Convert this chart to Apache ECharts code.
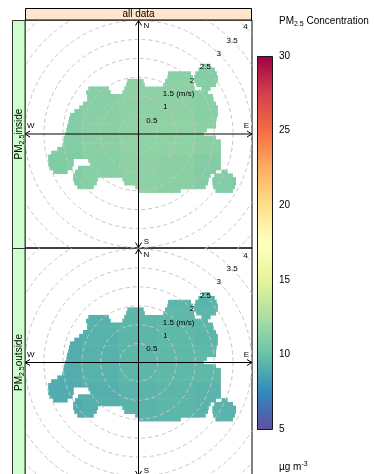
<!DOCTYPE html>
<html>
<head>
<meta charset="utf-8">
<script src="https://cdn.jsdelivr.net/npm/echarts@6/dist/echarts.min.js"></script>
<style>
  html, body { margin: 0; padding: 0; background: #fff; }
  #chart { width: 374px; height: 474px; }
</style>
</head>
<body>
<div id="chart"></div>
<script>
// Wind-speed plane (u = east, v = north, m/s) covered by the fitted surface.
// Each entry is one horizontal run of cells: [v (row centre), u start, u end]; rows are 0.1 m/s tall.
const rowStep = 0.1;
const coverRows = [
  [1.8, 1.69, 1.88],
  [1.7, 1.59, 2.01],
  [1.6, 0.79, 1.38], [1.6, 1.51, 2.06],
  [1.5, 0.77, 1.43], [1.5, 1.48, 2.09],
  [1.4, -0.29, 0.13], [1.4, 0.71, 1.43], [1.4, 1.48, 2.09],
  [1.3, -0.32, 0.16], [1.3, 0.66, 1.46], [1.3, 1.53, 2.04],
  [1.2, -1.32, -0.79], [1.2, -0.37, 1.48], [1.2, 1.67, 1.90],
  [1.1, -1.38, -0.74], [1.1, -0.42, 1.83],
  [1.0, -1.35, 1.96],
  [0.9, -1.35, 1.98],
  [0.8, -1.46, 2.04],
  [0.7, -1.56, 2.09],
  [0.6, -1.69, 2.09],
  [0.5, -1.80, 2.09],
  [0.4, -1.83, 2.06],
  [0.3, -1.85, 2.04],
  [0.2, -1.88, 2.04],
  [0.1, -1.90, 1.80],
  [0.0, -1.93, 1.72],
  [-0.1, -1.96, 2.04],
  [-0.2, -1.98, 2.17],
  [-0.3, -2.01, 2.17],
  [-0.4, -2.14, 2.17],
  [-0.5, -2.30, 2.17],
  [-0.6, -2.38, 2.17],
  [-0.7, -2.38, -1.72], [-0.7, -1.32, 2.17],
  [-0.8, -2.38, -1.72], [-0.8, -1.27, 2.17],
  [-0.9, -2.35, -1.75], [-0.9, -1.59, 2.17],
  [-1.0, -2.25, -1.88], [-1.0, -1.67, 2.04], [-1.0, 2.20, 2.35],
  [-1.1, -1.72, 1.90], [-1.1, 2.01, 2.49],
  [-1.2, -1.72, -1.08], [-1.2, -0.42, 1.85], [-1.2, 1.96, 2.57],
  [-1.3, -1.69, -1.11], [-1.3, -0.37, 1.83], [-1.3, 1.96, 2.57],
  [-1.4, -1.61, -1.19], [-1.4, -0.08, 1.77], [-1.4, 1.98, 2.54],
  [-1.5, 0.00, 1.11], [-1.5, 2.04, 2.49]
];

// PM2.5 (µg m-3) on a 1 m/s node grid: rows v = 3 ... -3, columns u = -3 ... 3
const gridNodes = [-3, -2, -1, 0, 1, 2, 3];
const insideValues = [
  [null, null, null, null, null, null, null],
  [null, null, 11.1, 11.3, 11.2, 11.0, null],
  [null, 11.0, 11.2, 11.4, 11.4, 11.2, null],
  [null, 11.0, 11.3, 11.5, 11.5, 11.3, null],
  [null, 10.9, 11.2, 11.4, 11.3, 11.0, 10.8],
  [null, null, 11.1, 11.3, 11.2, 10.9, 10.7],
  [null, null, null, null, null, null, null]
];
const outsideValues = [
  [null, null, null, null, null, null, null],
  [null, null, 9.3, 9.4, 9.5, 9.4, null],
  [null, 9.1, 9.3, 9.5, 9.6, 9.5, null],
  [null, 9.1, 9.3, 9.5, 9.6, 9.6, null],
  [null, 9.0, 9.2, 9.4, 9.5, 9.4, 9.3],
  [null, null, 9.2, 9.4, 9.5, 9.3, 9.3],
  [null, null, null, null, null, null, null]
];

const upper = 3;                                   // axis extent, m/s
const ringSpeeds = [0.5, 1, 1.5, 2, 2.5, 3, 3.5, 4];
const ringLabels = ['0.5', '1', '1.5 (m/s)', '2', '2.5', '3', '3.5', '4'];
const compassLabels = [['N', 0.07, 0.95], ['E', 0.95, 0.07], ['S', 0.07, -0.95], ['W', -0.95, 0.07]];
const colourTicks = [5, 10, 15, 20, 25, 30];
const palette = ['#5E4FA2', '#3288BD', '#66C2A5', '#ABDDA4', '#E6F598', '#FFFFBF',
                 '#FEE08B', '#FDAE61', '#F46D43', '#D53E4F', '#9E0142'];

const FONT = "'Liberation Sans', Arial, Helvetica, sans-serif";
const chart = echarts.init(document.getElementById('chart'));

const panelLeft = 25, panelWidth = 227;
const pxPerUnit = panelWidth / (2 * upper);
const panels = [
  { top: 20, height: 228, label: ['PM', '2.5', 'inside'], values: insideValues },
  { top: 248, height: 229, label: ['PM', '2.5', 'outside'], values: outsideValues }
];

// split each run where it crosses into the next node's cell and attach that node's value
function surfaceCells(values) {
  const out = [];
  coverRows.forEach(([v, u0, u1]) => {
    const ri = 3 - Math.round(v);
    let a = u0;
    while (a < u1 - 1e-9) {
      const col = Math.round(a + 1e-9);
      const end = Math.min(u1, col + 0.5);
      const val = values[ri][gridNodes.indexOf(col)];
      if (val != null) out.push([a, end, v, val]);
      a = end;
    }
  });
  return out;
}

function surfaceItem(params, api) {
  const v = api.value(2);
  const p0 = api.coord([api.value(0), v + rowStep / 2]);
  const p1 = api.coord([api.value(1), v - rowStep / 2]);
  return {
    type: 'rect',
    shape: { x: p0[0] - 0.3, y: p0[1] - 0.3, width: p1[0] - p0[0] + 0.6, height: p1[1] - p0[1] + 0.6 },
    style: { fill: api.visual('color') }
  };
}

function ringItem(params, api) {
  const c = api.coord([0, 0]);
  const r = api.size([api.value(0), 0])[0];
  return {
    type: 'circle',
    shape: { cx: c[0], cy: c[1], r: r },
    style: { fill: null, stroke: '#c6c6c6', lineWidth: 1, lineDash: [4, 3] }
  };
}

function ringLabelItem(params, api) {
  const p = api.coord([api.value(0), api.value(1)]);
  return {
    type: 'text', x: p[0], y: p[1],
    style: { text: ringLabels[api.value(2)], fontSize: 8, fontFamily: FONT, fill: '#000',
             align: 'center', verticalAlign: 'middle' }
  };
}

function arrowItem(params, api) {
  const p0 = api.coord([api.value(0), api.value(1)]);
  const p1 = api.coord([api.value(2), api.value(3)]);
  const dx = p1[0] - p0[0], dy = p1[1] - p0[1];
  const len = Math.hypot(dx, dy);
  const ux = dx / len, uy = dy / len, nx = -uy, ny = ux;
  const L = 5, W = 3;
  const head = (t, s) => [[t[0] - s * ux * L + nx * W, t[1] - s * uy * L + ny * W], t,
                          [t[0] - s * ux * L - nx * W, t[1] - s * uy * L - ny * W]];
  const st = { stroke: '#000', lineWidth: 1, fill: null };
  return {
    type: 'group',
    children: [
      { type: 'line', shape: { x1: p0[0], y1: p0[1], x2: p1[0], y2: p1[1] }, style: st },
      { type: 'polyline', shape: { points: head(p1, 1) }, style: st },
      { type: 'polyline', shape: { points: head(p0, -1) }, style: st }
    ]
  };
}

function compassItem(params, api) {
  const p = api.coord([api.value(0) * upper, api.value(1) * upper]);
  return {
    type: 'text', x: p[0], y: p[1],
    style: { text: compassLabels[params.dataIndex][0], fontSize: 8, fontFamily: FONT, fill: '#000',
             align: 'center', verticalAlign: 'middle' }
  };
}

function colourBarItem(params, api) {
  const p0 = api.coord([0, colourTicks[colourTicks.length - 1]]);
  const p1 = api.coord([1, colourTicks[0]]);
  return {
    type: 'rect',
    shape: { x: p0[0] + 0.5, y: p0[1] + 0.5, width: p1[0] - p0[0] - 1, height: p1[1] - p0[1] },
    style: {
      fill: { type: 'linear', x: 0, y: 1, x2: 0, y2: 0,
              colorStops: palette.map((c, i) => ({ offset: i / (palette.length - 1), color: c })) },
      stroke: '#1a1a1a', lineWidth: 1
    }
  };
}

const grids = [], xAxes = [], yAxes = [], series = [];
panels.forEach((p, i) => {
  const half = p.height / 2 / pxPerUnit;
  grids.push({ left: panelLeft, top: p.top, width: panelWidth, height: p.height, show: true,
               borderColor: '#000', borderWidth: 1, backgroundColor: 'transparent',
               containLabel: false, outerBoundsMode: 'none' });
  xAxes.push({ gridIndex: i, type: 'value', min: -upper, max: upper, show: false });
  yAxes.push({ gridIndex: i, type: 'value', min: -half, max: half, show: false });
});
grids.push({ left: 257, top: 56, width: 16, height: 373, show: false, containLabel: false, outerBoundsMode: 'none' });
xAxes.push({ gridIndex: 2, type: 'value', min: 0, max: 1, show: false });
yAxes.push({ gridIndex: 2, type: 'value', min: colourTicks[0], max: colourTicks[colourTicks.length - 1],
             interval: 5, position: 'right',
             axisLine: { show: false }, splitLine: { show: false },
             axisTick: { show: true, length: 4, lineStyle: { color: '#000', width: 1 } },
             axisLabel: { show: true, fontSize: 10, fontFamily: FONT, color: '#000', margin: 6 } });

panels.forEach((p, i) => {
  series.push({ type: 'custom', xAxisIndex: i, yAxisIndex: i, clip: true, silent: true, z: 1,
                encode: { x: [0, 1], y: 2 }, data: surfaceCells(p.values), renderItem: surfaceItem });
});
panels.forEach((p, i) => {
  series.push({ type: 'custom', xAxisIndex: i, yAxisIndex: i, clip: true, silent: true, z: 2,
                data: ringSpeeds.map(r => [r, 0]), renderItem: ringItem });
  series.push({ type: 'custom', xAxisIndex: i, yAxisIndex: i, silent: true, z: 4,
                data: ringSpeeds.map((r, k) => [r * Math.SQRT1_2, r * Math.SQRT1_2, k]), renderItem: ringLabelItem });
  series.push({ type: 'custom', xAxisIndex: i, yAxisIndex: i, silent: true, z: 3,
                data: [[-upper, 0, upper, 0], [0, -upper, 0, upper]], renderItem: arrowItem });
  series.push({ type: 'custom', xAxisIndex: i, yAxisIndex: i, silent: true, z: 4,
                data: compassLabels.map(c => [c[1], c[2]]), renderItem: compassItem });
});
series.push({ type: 'custom', xAxisIndex: 2, yAxisIndex: 2, silent: true, z: 1,
              data: [[0, colourTicks[0], 1, colourTicks[colourTicks.length - 1]]], renderItem: colourBarItem });

const sub = { fontSize: 7, fontFamily: FONT, fill: '#000', verticalAlign: 'bottom', lineHeight: 13 };
const main = { fontSize: 10, fontFamily: FONT, fill: '#000', lineHeight: 13 };
const graphics = [
  { type: 'rect', shape: { x: 25.5, y: 8.5, width: 226, height: 11.5 }, z: 10,
    style: { fill: '#ffe5cc', stroke: '#000', lineWidth: 1 } },
  { type: 'text', x: 138.5, y: 14.5, z: 11,
    style: { text: 'all data', fontSize: 10, fontFamily: FONT, fill: '#000', align: 'center', verticalAlign: 'middle' } },
  { type: 'text', x: 279, y: 21.5, z: 11,
    style: { text: '{m|PM}{s|2.5}{m| Concentration}', rich: { m: main, s: sub }, verticalAlign: 'middle' } },
  { type: 'text', x: 279, y: 467, z: 11,
    style: { text: '{m|µg m}{s|-3}', rich: { m: main, s: Object.assign({}, sub, { verticalAlign: 'top' }) },
             verticalAlign: 'middle' } }
];
panels.forEach(p => {
  graphics.push({ type: 'rect', shape: { x: 12.5, y: p.top + 0.5, width: 12.5, height: p.height }, z: 10,
                  style: { fill: '#ccffcc', stroke: '#333', lineWidth: 1 } });
  graphics.push({ type: 'text', x: 19, y: p.top + p.height / 2, rotation: Math.PI / 2, z: 11,
                  style: { text: '{m|' + p.label[0] + '}{s|' + p.label[1] + '}{m|' + p.label[2] + '}',
                           rich: { m: main, s: sub }, align: 'center', verticalAlign: 'middle' } });
});

chart.setOption({
  animation: false,
  backgroundColor: '#fff',
  grid: grids,
  xAxis: xAxes,
  yAxis: yAxes,
  visualMap: { type: 'continuous', show: false, min: colourTicks[0], max: colourTicks[colourTicks.length - 1],
               dimension: 3, seriesIndex: [0, 1], inRange: { color: palette } },
  graphic: graphics,
  series: series
});
</script>
</body>
</html>
